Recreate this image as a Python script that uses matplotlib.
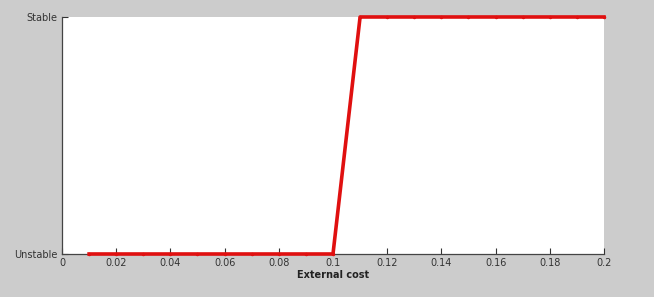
import matplotlib
matplotlib.use('Agg')
import matplotlib.pyplot as plt

# Data
cost = [0.01, 0.02, 0.03, 0.04, 0.05, 0.06, 0.07, 0.08, 0.09, 0.10,
        0.11, 0.12, 0.13, 0.14, 0.15, 0.16, 0.17, 0.18, 0.19, 0.20]
state = [0, 0, 0, 0, 0, 0, 0, 0, 0, 0,
         1, 1, 1, 1, 1, 1, 1, 1, 1, 1]
xticks = [0, 0.02, 0.04, 0.06, 0.08, 0.1, 0.12, 0.14, 0.16, 0.18, 0.2]
xticklabels = ['0', '0.02', '0.04', '0.06', '0.08', '0.1', '0.12', '0.14', '0.16', '0.18', '0.2']
yticklabels = ['Unstable', 'Stable']

fig = plt.figure(figsize=(6.54, 2.97), dpi=100, facecolor='#cccccc')
ax = fig.add_axes([0.0948, 0.1448, 0.8287, 0.798])
ax.set_facecolor('white')

ax.plot(cost, state, color='#e01010', linewidth=2.6, marker='.', markersize=3,
        clip_on=False, zorder=3)

ax.set_xlim(0, 0.2)
ax.set_ylim(0, 1)
ax.set_xticks(xticks)
ax.set_xticklabels(xticklabels)
ax.set_yticks([0, 1])
ax.set_yticklabels(yticklabels)
ax.tick_params(direction='in', length=4, width=0.8, labelsize=7, colors='#333333', pad=3)

for s in ['top', 'right']:
    ax.spines[s].set_visible(False)
for s in ['left', 'bottom']:
    ax.spines[s].set_color('#444444')
    ax.spines[s].set_linewidth(0.9)

ax.set_xlabel('External cost', fontsize=7, fontweight='bold', color='#222222', labelpad=1)

fig.savefig('out.png', dpi=100, facecolor=fig.get_facecolor())
